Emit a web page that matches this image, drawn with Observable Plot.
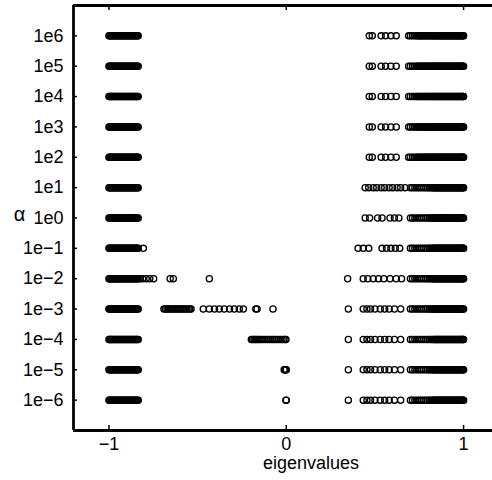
<!DOCTYPE html>
<html>
<head>
<meta charset="utf-8">
<script src="https://cdn.jsdelivr.net/npm/d3@7"></script>
<script src="https://cdn.jsdelivr.net/npm/@observablehq/plot@0.6"></script>
<style>
  html, body { margin: 0; padding: 0; background: white; overflow: hidden; }
</style>
</head>
<body>
<div id="chart"></div>
<script>
// alpha exponents (rows) and their tick labels
const alphaExp = [6, 5, 4, 3, 2, 1, 0, -1, -2, -3, -4, -5, -6];
const alphaLabels = ["1e6", "1e5", "1e4", "1e3", "1e2", "1e1", "1e0", "1e\u22121", "1e\u22122", "1e\u22123", "1e\u22124", "1e\u22125", "1e\u22126"];
const xTicks = [-1, 0, 1];
const xLabel = "eigenvalues";
const yLabel = "\u03b1";

// eigenvalue clusters
const leftCore = [-1.0, -0.997, -0.993, -0.988, -0.984, -0.979, -0.974, -0.969, -0.964, -0.959, -0.954, -0.949, -0.944, -0.939, -0.934, -0.929, -0.924, -0.919, -0.914, -0.909, -0.904, -0.899, -0.894, -0.889, -0.884, -0.879, -0.874, -0.869, -0.864, -0.859, -0.854, -0.849, -0.844, -0.839, -0.835];
const rightCore = [0.83, 0.835, 0.84, 0.845, 0.85, 0.855, 0.86, 0.865, 0.87, 0.875, 0.88, 0.885, 0.89, 0.895, 0.9, 0.905, 0.91, 0.915, 0.92, 0.925, 0.93, 0.935, 0.94, 0.945, 0.95, 0.955, 0.96, 0.965, 0.97, 0.975, 0.98, 0.985, 0.99, 0.994, 0.997, 1.0];
const upperShoulder = [0.69, 0.7, 0.712, 0.722, 0.732, 0.74, 0.746, 0.752, 0.758, 0.764, 0.77, 0.776, 0.782, 0.788, 0.794, 0.8, 0.806, 0.812, 0.818, 0.824];
const lowerShoulder = [0.7, 0.712, 0.725, 0.738, 0.75, 0.762, 0.774, 0.786, 0.796, 0.806, 0.815, 0.823];

const upperRowsRight = [0.468, 0.485, 0.535, 0.56, 0.59, 0.62];
const row1Right = [0.445, 0.465, 0.49, 0.51, 0.535, 0.555, 0.58, 0.6, 0.625, 0.645, 0.67];
const row0Right = [0.445, 0.47, 0.515, 0.54, 0.585, 0.61, 0.635];
const rowM1Left = [-0.806];
const rowM1Right = [0.405, 0.434, 0.465, 0.54, 0.565, 0.59, 0.615, 0.64];
const rowM2Left = [-0.825, -0.81, -0.79, -0.77, -0.748, -0.655, -0.637, -0.434];
const rowM2Right = [0.346, 0.434, 0.46, 0.49, 0.52, 0.55, 0.585, 0.62, 0.65];
const rowM3Left = [-0.69, -0.682, -0.673, -0.665, -0.656, -0.648, -0.64, -0.631, -0.622, -0.614, -0.605, -0.597, -0.588, -0.58, -0.571, -0.562, -0.553, -0.545, -0.537, -0.468, -0.434, -0.405, -0.378, -0.35, -0.32, -0.293, -0.265, -0.242, -0.172, -0.165, -0.075];
const rowM4Left = [-0.197, -0.19, -0.182, -0.175, -0.168, -0.16, -0.152, -0.142, -0.132, -0.12, -0.108, -0.098, -0.088, -0.078, -0.068, -0.058, -0.046, -0.034, -0.024, -0.014, -0.006, -0.002];
const rowM5Left = [-0.012, -0.009, -0.006, -0.003, 0.0];
const rowM6Left = [-0.002, 0.0];
const lowerRowsRight = [0.35, 0.434, 0.455, 0.475, 0.5, 0.53, 0.555, 0.58, 0.61, 0.645];

const rowValues = [
  [...leftCore, ...upperRowsRight, ...upperShoulder, ...rightCore],
  [...leftCore, ...upperRowsRight, ...upperShoulder, ...rightCore],
  [...leftCore, ...upperRowsRight, ...upperShoulder, ...rightCore],
  [...leftCore, ...upperRowsRight, ...upperShoulder, ...rightCore],
  [...leftCore, ...upperRowsRight, ...upperShoulder, ...rightCore],
  [...leftCore, ...row1Right, ...lowerShoulder, ...rightCore],
  [...leftCore, ...row0Right, ...lowerShoulder, ...rightCore],
  [...leftCore, ...rowM1Left, ...rowM1Right, ...lowerShoulder, ...rightCore],
  [...leftCore, ...rowM2Left, ...rowM2Right, ...lowerShoulder, ...rightCore],
  [...leftCore, ...rowM3Left, ...lowerRowsRight, ...lowerShoulder, ...rightCore],
  [...leftCore, ...rowM4Left, ...lowerRowsRight, ...lowerShoulder, ...rightCore],
  [...leftCore, ...rowM5Left, ...lowerRowsRight, ...lowerShoulder, ...rightCore],
  [...leftCore, ...rowM6Left, ...lowerRowsRight, ...lowerShoulder, ...rightCore]
];

const points = rowValues.flatMap((vals, i) => vals.map(v => ({v, e: alphaExp[i]})));
const labelOf = d => alphaLabels[alphaExp.indexOf(d)];
const font = "'Liberation Sans', Arial, Helvetica, sans-serif";

const chart = Plot.plot({
  width: 492,
  height: 480,
  marginLeft: 73,
  marginRight: 0,
  marginTop: 5,
  marginBottom: 50,
  style: {fontFamily: font, fontSize: "18px", color: "black", background: "white"},
  x: {domain: [-1.2, 1.163]},
  y: {domain: [-7, 7]},
  marks: [
    Plot.dot(points, {x: "v", y: "e", r: 3.1, stroke: "black", strokeWidth: 1.3, fill: "none"}),
    Plot.ruleX([-1.2], {stroke: "black", strokeWidth: 2.8}),
    Plot.ruleY([-7, 7], {stroke: "black", strokeWidth: 2.8}),
    Plot.axisY({anchor: "left", ticks: alphaExp, tickSize: 0, tickPadding: 10, tickFormat: labelOf, fontSize: 18, label: null}),
    Plot.axisY({anchor: "left", ticks: alphaExp, tickSize: -4, tickPadding: 0, tickFormat: () => "", label: null, strokeWidth: 1.5}),
    Plot.axisX({anchor: "bottom", ticks: xTicks, tickSize: 0, tickPadding: 7, tickFormat: d => d < 0 ? "\u2212" + Math.abs(d) : String(d), fontSize: 18, label: null}),
    Plot.axisX({anchor: "bottom", ticks: xTicks, tickSize: -5, tickPadding: 0, tickFormat: () => "", label: null, strokeWidth: 1.5}),
    Plot.axisX({anchor: "top", ticks: xTicks, tickSize: -4, tickPadding: 0, tickFormat: () => "", label: null, strokeWidth: 1.5}),
    Plot.text([xLabel], {frameAnchor: "bottom", dx: 28, dy: 38, fontSize: 18, textAnchor: "middle"}),
    Plot.text([yLabel], {frameAnchor: "left", dx: -54, dy: -3, fontSize: 20, textAnchor: "middle"})
  ]
});
document.getElementById("chart").appendChild(chart);
</script>
</body>
</html>
